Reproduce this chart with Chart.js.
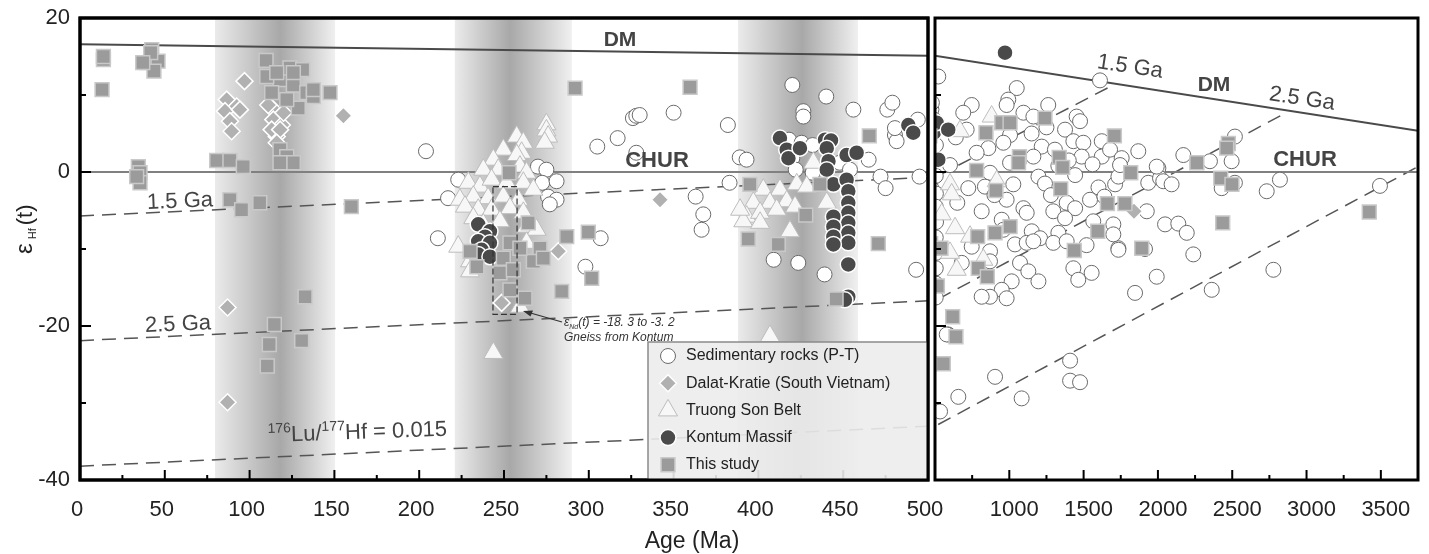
<!DOCTYPE html>
<html lang="en">
<head>
<meta charset="UTF-8">
<title>εHf(t) vs Age</title>
<script src="https://cdn.jsdelivr.net/npm/chart.js@4.4.1/dist/chart.umd.min.js"></script>
<style>
  body { margin: 0; background: #fff; }
  #wrap { position: relative; width: 1429px; height: 554px; overflow: hidden; }
  .panel { position: absolute; top: 0; height: 554px; }
  #leftBox { left: 0; width: 960px; z-index: 1; }
  #rightBox { left: 932px; width: 497px; z-index: 2; }
</style>
</head>
<body>
<div id="wrap">
  <div class="panel" id="leftBox"><canvas id="leftChart"></canvas></div>
  <div class="panel" id="rightBox"><canvas id="rightChart"></canvas></div>
</div>
<script>
// ---- axes ----
const leftTicksX = [0, 50, 100, 150, 200, 250, 300, 350, 400, 450, 500];
const leftMinorX = [25, 75, 125, 175, 225, 275, 325, 375, 425, 475];
const rightTicksX = [1000, 1500, 2000, 2500, 3000, 3500];
const rightMinorX = [750, 1250, 1750, 2250, 2750, 3250];
const ticksY = [-40, -20, 0, 20];
const minorY = [-30, -10, 10];

// gray age bands: [start, darkest, end] in Ma
const bands = [[79.6, 118, 150.4], [221, 253.5, 290], [388, 425.7, 458.7]];

// reference lines [age, eHf]
const dmLine = [[0, 16.6], [3750, 5.35]];
const churLine = [[0, 0], [3750, 0]];
const line15 = [[0, -5.7], [1700, 11.3]];
const line25 = [[0, -21.9], [2833, 7.4]];
const line015 = [[0, -38.2], [3750, 0.7]];
const gneissBox = [[243.5, -1.9], [257.7, -18.5]];

// ---- series [age (Ma), eHf(t)] ----
const sedimentary = [
  [204, 2.7], [211, -8.6], [223, -1.0], [217, -3.4], [270, 0.7], [275, 0.3], [272.5, -1.4], [281, -1.2],
  [276, -3.2], [281, -3.6], [277, -4.2], [307, -8.6], [298, -12.3], [326, 7.0], [328, 7.3], [317, 4.4],
  [305, 3.3], [328, 2.5], [350, 7.7], [330, 7.4], [382, 6.1], [389, 1.9], [393, 1.6], [383, -1.4],
  [363, -3.2], [367.5, -5.5], [366.5, -7.5], [420, 11.3], [440, 9.8], [426.5, 7.9], [426.5, 7.2],
  [418, 4.2], [425.5, 3.8], [432, 3.5], [456, 8.1], [476, 8.1], [479, 9.0], [480.5, 4.8], [481.5, 4.0],
  [480.5, 5.7], [494, 6.8], [465, 1.6], [472, -0.6], [475, -2.1], [495, -0.6], [409, -11.4],
  [423.5, -11.8], [439, -13.3], [493, -12.7], [420, 1.8], [422, 0.3], [448, 1.2], [454, 0.3], [432, -0.1],
  [505, 6.0], [506, 3.5], [505, 1.5], [505, -0.5], [506, -2.8], [505, -4.5], [507, -6.5], [505, -8.5],
  [506, -10.5], [505, -12.5], [506, -14.5], [505, -16.3],
  [522, 12.4], [1050, 10.9], [993, 9.4], [982, 8.7], [747, 8.7], [690, 7.7], [1095, 7.7], [1162, 7.2],
  [1262, 8.7], [1453, 7.2], [1476, 6.6], [1375, 5.5], [1005, 4.8], [960, 3.8], [859, 3.1], [713, 5.5],
  [1218, 3.3], [1307, 2.9], [1431, 4.0], [1498, 3.8], [1487, 2.0], [1622, 4.0], [1622, 2.0], [1678, 2.9],
  [1756, 1.8], [1868, 2.7], [2003, 0.5], [1162, 2.0], [1005, 1.2], [601, 0.9], [870, -0.1], [724, -2.1],
  [836, -1.9], [1027, -1.6], [1196, -0.6], [1443, -0.4], [1712, -1.6], [1734, -0.6], [1935, -1.4],
  [2014, -0.8], [982, -3.6], [814, -5.1], [1095, -4.7], [1117, -5.3], [1296, -5.1], [1386, -4.0],
  [1443, -4.7], [1543, -3.6], [1375, -6.0], [1565, -6.4], [1700, -6.8], [1846, -15.7], [1925, -5.1],
  [2048, -6.8], [949, -6.2], [960, -7.5], [1151, -7.7], [1330, -7.9], [1207, -8.6], [1038, -9.4],
  [1117, -9.2], [747, -9.7], [870, -10.3], [1162, -9.0], [1296, -9.2], [1386, -9.0], [1734, -9.9],
  [1700, -8.1], [680, -11.8], [870, -11.6], [1072, -11.8], [1128, -12.9], [1196, -14.2], [1016, -14.2],
  [949, -15.3], [870, -16.2], [814, -16.2], [982, -16.4], [1431, -12.5], [1464, -14.0], [1554, -13.1],
  [1992, -13.6], [589, -21.1], [1610, 11.9], [2171, 2.2], [2350, 1.4], [2496, 1.4], [2518, 4.6],
  [2036, -1.2], [2092, -1.6], [2429, -2.1], [2518, -1.4], [2821, -1.0], [2732, -2.5], [3494, -1.8],
  [1992, 0.7], [1745, 0.9], [2777, -12.7], [2362, -15.3], [2238, -10.7], [2137, -6.7], [2194, -7.9],
  [1734, -10.1], [1913, -10.0], [534, -31.1], [657, -29.2], [904, -26.6], [1083, -29.4], [1409, -24.5],
  [1409, -27.1], [1476, -27.3], [579, -21.1], [640, 4.5], [780, 2.5], [650, -4.0], [900, -3.0],
  [1240, -1.5], [1280, -3.0], [1330, 0.8], [1560, 1.0], [1600, -2.0], [1150, 5.0], [1250, 5.8],
  [1400, 1.5], [1520, -9.5], [1640, -3.2]
];
const dalatKratie = [
  [97, 11.8], [86.5, 9.4], [92.4, 8.5], [85.5, 7.9], [88.4, 6.6], [89.4, 5.3], [94.3, 8.1], [155.3, 7.3],
  [113, 8.3], [111, 8.7], [114, 6.8], [119, 6.1], [116, 4.6], [113, 5.5], [120, 7.7], [118, 5.5], [116, 3.8],
  [87, -17.6], [87, -29.9], [282, -10.3], [248.6, -17.0], [342, -3.6], [1839, -5.1]
];
const truongSon = [
  [275, 6.2], [275, 5.4], [276, 4.6], [274, 3.8], [257.5, 4.6], [261.4, 3.8], [260.4, 2.5], [249.6, 2.9],
  [257.5, 2.2], [243.7, 1.6], [237.8, 0.3], [246.6, 0.3], [259.4, 0.7], [263.3, -0.1], [229, -1.4],
  [235.8, -1.9], [242.7, -1.0], [251.6, -1.4], [261.4, -1.4], [267.3, -2.3], [224, -3.6], [231.9, -3.2],
  [240.6, -3.4], [249.6, -3.2], [258.5, -3.6], [227, -4.5], [234.8, -4.9], [242.7, -4.9], [253.5, -4.7],
  [261.4, -5.3], [231.9, -6.0], [247.6, -6.4], [237.8, -6.8], [263.3, -7.1], [269.2, -7.5], [223, -9.7],
  [230, -11.6], [230, -12.9], [263.3, -9.2], [243.7, -23.5], [259.4, -17.5],
  [402.9, -2.3], [412.7, -2.3], [422.6, -1.6], [428.5, -1.9], [432.4, 1.2], [397, -4.0], [406.8, -4.0],
  [416.7, -3.8], [421.6, -4.5], [393.1, -5.8], [401, -5.3], [410.8, -4.9], [440.3, -4.0], [391.1, -6.4],
  [401, -6.6], [418.6, -7.7], [389.2, -4.9], [406.8, -21.3],
  [881, 7.2], [668, 5.3], [601, -1.6], [612, -2.9], [545, -5.5], [635, -7.3], [736, -8.4], [601, -10.5],
  [646, -12.7], [825, -11.4], [915, -1.2]
];
const kontum = [
  [234.8, -6.8], [241.7, -7.7], [238.8, -8.4], [234.8, -9.0], [241.7, -9.2], [236.8, -10.1], [234.8, -10.7],
  [241.7, -11.0],
  [412.7, 4.4], [416.7, 2.9], [417.7, 1.8], [424.5, 3.1], [439.3, 4.2], [442.8, 4.1], [440.3, 3.1],
  [441.3, 1.4], [440.3, 0.3], [444.2, -1.6], [452, 2.2], [457.9, 2.5], [452, -1.0], [453, -2.5], [453, -4.0],
  [453, -5.3], [453, -6.6], [453, -7.9], [453, -9.2], [444.2, -5.8], [444.2, -7.1], [444.2, -8.4],
  [444.2, -9.4], [453, -12.0], [453, -16.2], [451, -16.6], [488.4, 6.1], [491.3, 5.1],
  [511, 6.4], [589, 5.5], [522, 1.6], [971, 15.5]
];
const thisStudy = [
  [13.8, 14.6], [13.8, 15.0], [13, 10.7], [42.3, 15.9], [39.3, 14.2], [46, 14.4], [43.6, 13.1], [41.7, 15.5],
  [37, 14.2], [34.4, 0.7], [35.4, -0.1], [35.4, -1.4], [33.4, -0.6], [80.6, 1.5], [88.4, 1.5], [96.3, 0.7],
  [88.4, -3.6], [95.3, -4.9], [106, -4.0], [160, -4.5],
  [109.7, 14.5], [117.9, 12.0], [123.8, 13.5], [131.3, 13.3], [113, 10.3], [125.8, 11.3], [133.7, 10.3],
  [137.6, 9.8], [147.4, 10.3], [128.7, 8.3], [121.9, 9.4], [110.1, 12.4], [116, 12.9], [137.6, 10.7],
  [125.8, 12.9], [117.9, 2.9], [121.9, 2.0], [125.8, 1.2], [117.9, 1.2],
  [132.7, -16.2], [114.6, -19.8], [111.6, -22.4], [130.7, -21.9], [110.4, -25.2],
  [291.9, 10.9], [253, -0.1], [264.3, -6.6], [287, -8.4], [299.7, -7.8], [271.2, -9.9], [267.3, -11.6],
  [273.2, -11.2], [253.5, -9.2], [249.6, -11.2], [247.6, -13.1], [253.5, -15.3], [262.4, -16.4],
  [284, -15.5], [301.7, -13.8], [230, -10.3], [234, -12.3], [259.4, -9.9], [255.5, -12.7],
  [359.7, 11.0], [465.4, 4.7], [395, -1.6], [436.3, -1.6], [427.9, -5.6], [394, -8.7], [411.7, -9.4],
  [470.7, -9.3], [445.8, -16.5],
  [1240, 7.0], [949, 6.4], [1005, 6.4], [843, 5.1], [1707, 4.7], [1068, 2.0], [1062, 1.2], [1336, 1.9],
  [1359, 0.6], [780, 0.2], [910, -2.4], [1346, -2.2], [1817, -0.1], [1660, -4.1], [1778, -4.1],
  [1595, -7.7], [1005, -7.1], [904, -7.9], [787, -8.4], [540, -9.9], [1437, -10.2], [1891, -9.9],
  [791, -12.5], [852, -13.6], [516, -14.8], [619, -18.8], [641, -21.4], [556, -24.9],
  [2262, 1.2], [2474, 3.7], [2463, 3.1], [2423, -0.8], [2498, -1.6], [2436, -6.6], [3422, -5.2]
];

const legendLabels = ['Sedimentary rocks (P-T)', 'Dalat-Kratie (South Vietnam)', 'Truong Son Belt', 'Kontum Massif', 'This study'];

const FONT = '"Liberation Sans", Arial, Helvetica, sans-serif';

function pts(arr, lo, hi) {
  return arr.filter(p => p[0] >= lo && p[0] <= hi).map(p => ({ x: p[0], y: p[1] }));
}

function buildDatasets(lo, hi) {
  const a = lo - 40, b = hi + 40;
  const line = (label, arr, color, width, dash, order) => ({
    label, data: pts(arr, -1, 99999), showLine: true, pointRadius: 0, borderColor: color,
    borderWidth: width, borderDash: dash, fill: false, order, clip: 0
  });
  return [
    { label: legendLabels[4], data: pts(thisStudy, a, b), pointStyle: 'rect', pointRadius: 9.8,
      backgroundColor: '#9b9b9b', borderColor: '#c9c9c9', borderWidth: 1.5, order: 1, clip: 0 },
    { label: legendLabels[3], data: pts(kontum, a, b), pointStyle: 'circle', pointRadius: 8,
      backgroundColor: '#4a4a4a', borderColor: '#ffffff', borderWidth: 1.5, order: 2, clip: 0 },
    { label: legendLabels[2], data: pts(truongSon, a, b), pointStyle: 'triangle', pointRadius: 11,
      backgroundColor: '#f7f7f7', borderColor: '#bdbdbd', borderWidth: 1, order: 3, clip: 0 },
    { label: legendLabels[1], data: pts(dalatKratie, a, b), pointStyle: 'rectRot', pointRadius: 8.5,
      backgroundColor: '#b1b1b1', borderColor: '#ffffff', borderWidth: 1.5, order: 4, clip: 0 },
    { label: legendLabels[0], data: pts(sedimentary, a, b), pointStyle: 'circle', pointRadius: 7.5,
      backgroundColor: '#ffffff', borderColor: '#6a6a6a', borderWidth: 1, order: 5, clip: 0 },
    line('DM', dmLine, '#4a4a4a', 2, [], 6),
    line('CHUR', churLine, '#808080', 2.2, [], 7),
    line('1.5 Ga', line15, '#555555', 1.5, [14, 8], 8),
    line('2.5 Ga', line25, '#555555', 1.5, [14, 8], 9),
    line('0.015', line015, '#555555', 1.5, [14, 8], 10)
  ];
}

function text(ctx, s, x, y, font, color, align, rot) {
  ctx.save();
  ctx.font = font;
  ctx.fillStyle = color || '#333';
  ctx.textAlign = align || 'left';
  ctx.textBaseline = 'middle';
  ctx.translate(x, y);
  if (rot) ctx.rotate(rot * Math.PI / 180);
  ctx.fillText(s, 0, 0);
  ctx.restore();
}

// gray vertical bands behind the data
const bandsPlugin = {
  id: 'bands',
  beforeDatasetsDraw(chart) {
    const { ctx, chartArea: ca, scales: { x } } = chart;
    ctx.save();
    bands.forEach(([s, p, e]) => {
      const x0 = x.getPixelForValue(s), x1 = x.getPixelForValue(e), xp = x.getPixelForValue(p);
      const g = ctx.createLinearGradient(x0, 0, x1, 0);
      g.addColorStop(0, '#ebebeb');
      g.addColorStop((xp - x0) / (x1 - x0), '#a8a8a8');
      g.addColorStop(1, '#f0f0f0');
      ctx.fillStyle = g;
      ctx.fillRect(x0, ca.top, x1 - x0, ca.bottom - ca.top);
    });
    ctx.restore();
  }
};

// frame and inward ticks
function framePlugin(majorX, minorX) {
  return {
    id: 'frame',
    afterDatasetsDraw(chart) {
      const { ctx, chartArea: ca, scales: { x, y } } = chart;
      ctx.save();
      ctx.strokeStyle = '#000';
      ctx.lineWidth = 2;
      ctx.beginPath();
      majorX.forEach(v => { const p = x.getPixelForValue(v); ctx.moveTo(p, ca.bottom); ctx.lineTo(p, ca.bottom - 10); });
      minorX.forEach(v => { const p = x.getPixelForValue(v); ctx.moveTo(p, ca.bottom); ctx.lineTo(p, ca.bottom - 5); });
      ticksY.forEach(v => { const p = y.getPixelForValue(v); ctx.moveTo(ca.left, p); ctx.lineTo(ca.left + 11, p); });
      minorY.forEach(v => { const p = y.getPixelForValue(v); ctx.moveTo(ca.left, p); ctx.lineTo(ca.left + 6, p); });
      ctx.stroke();
      ctx.lineWidth = 3;
      ctx.strokeRect(ca.left, ca.top, ca.right - ca.left, ca.bottom - ca.top);
      ctx.restore();
    }
  };
}

const leftLabels = {
  id: 'leftLabels',
  afterDatasetsDraw(chart) {
    const { ctx, scales: { x, y } } = chart;
    const f = (w, s) => `${w} ${s}px ${FONT}`;
    text(ctx, 'DM', 620, 40, f('bold', 21), '#444', 'center');
    text(ctx, 'CHUR', 657, 161, f('bold', 22), '#444', 'center');
    text(ctx, '1.5 Ga', 147, 203, f('normal', 22), '#444', 'left', -2.5);
    text(ctx, '2.5 Ga', 145, 326, f('normal', 22), '#444', 'left', -2.5);
    // 176Lu/177Hf = 0.015
    ctx.save();
    ctx.translate(268, 442);
    ctx.rotate(-2 * Math.PI / 180);
    ctx.fillStyle = '#444';
    ctx.textBaseline = 'alphabetic';
    let cx = 0;
    const seg = (s, size, dy) => { ctx.font = f('normal', size); ctx.fillText(s, cx, dy); cx += ctx.measureText(s).width; };
    seg('176', 14, -9); seg('Lu/', 22, 0); seg('177', 14, -9); seg('Hf = 0.015', 22, 0);
    ctx.restore();

    // gneiss box + arrow + note
    const bx0 = x.getPixelForValue(gneissBox[0][0]), bx1 = x.getPixelForValue(gneissBox[1][0]);
    const by0 = y.getPixelForValue(gneissBox[0][1]), by1 = y.getPixelForValue(gneissBox[1][1]);
    ctx.save();
    ctx.strokeStyle = '#333';
    ctx.lineWidth = 1.2;
    ctx.setLineDash([6, 3]);
    ctx.strokeRect(bx0, by0, bx1 - bx0, by1 - by0);
    ctx.setLineDash([]);
    ctx.beginPath();
    ctx.moveTo(562, 322); ctx.lineTo(527, 312);
    ctx.stroke();
    ctx.beginPath();
    ctx.moveTo(523, 311); ctx.lineTo(533, 310.5); ctx.lineTo(530.5, 316.5); ctx.closePath();
    ctx.fillStyle = '#333';
    ctx.fill();
    ctx.fillStyle = '#333';
    ctx.textBaseline = 'alphabetic';
    cx = 564;
    const it = (s, size, dy) => { ctx.font = `italic ${size}px ${FONT}`; ctx.fillText(s, cx, 326 + dy); cx += ctx.measureText(s).width; };
    it('ε', 12, 0); it('Nd', 7, 3); it('(t) = -18. 3 to -3. 2', 12, 0);
    ctx.font = `italic 12px ${FONT}`;
    ctx.fillText('Gneiss from Kontum', 564, 341);
    ctx.restore();
  },
  afterDraw(chart) {
    const { ctx } = chart;
    // axis titles
    text(ctx, 'Age (Ma)', 692, 542, `23px ${FONT}`, '#222', 'center');
    ctx.save();
    ctx.translate(24, 254);
    ctx.rotate(-Math.PI / 2);
    ctx.fillStyle = '#222';
    ctx.textBaseline = 'alphabetic';
    ctx.font = `24px ${FONT}`;
    ctx.fillText('ε', 0, 8);
    let cx = ctx.measureText('ε').width + 4;
    ctx.font = `11px ${FONT}`;
    ctx.fillText('Hf', cx, 12);
    cx += ctx.measureText('Hf').width + 3;
    ctx.font = `22px ${FONT}`;
    ctx.fillText('(t)', cx, 8);
    ctx.restore();

    // legend box
    const ca = chart.chartArea;
    const lx = 648, ly = 342, lw = ca.right - 648, lh = ca.bottom - 342;
    ctx.save();
    ctx.fillStyle = 'rgba(236,236,236,0.9)';
    ctx.fillRect(lx, ly, lw, lh);
    ctx.strokeStyle = '#8a8a8a';
    ctx.lineWidth = 1.5;
    ctx.strokeRect(lx, ly, lw, lh);
    legendLabels.forEach((lab, i) => {
      const ds = chart.data.datasets.find(d => d.label === lab);
      const yy = ly + 14 + i * 27.2;
      ctx.fillStyle = ds.backgroundColor;
      ctx.strokeStyle = ds.borderColor;
      ctx.lineWidth = ds.borderWidth;
      Chart.helpers.drawPoint(ctx, { pointStyle: ds.pointStyle, radius: ds.pointRadius, rotation: 0, borderWidth: ds.borderWidth }, 668, yy);
      text(ctx, lab, 686, yy, `16px ${FONT}`, '#222', 'left');
    });
    ctx.restore();
    // redraw frame edge over legend
    ctx.save();
    ctx.strokeStyle = '#000';
    ctx.lineWidth = 3;
    ctx.strokeRect(ca.left, ca.top, ca.right - ca.left, ca.bottom - ca.top);
    ctx.restore();
  }
};

const rightLabels = {
  id: 'rightLabels',
  afterDatasetsDraw(chart) {
    const { ctx } = chart;
    const o = 932;
    const f = (w, s) => `${w} ${s}px ${FONT}`;
    text(ctx, '1.5 Ga', 1130 - o, 67, f('normal', 22), '#444', 'center', 8.5);
    text(ctx, 'DM', 1214 - o, 85, f('bold', 21), '#444', 'center');
    text(ctx, '2.5 Ga', 1302 - o, 99, f('normal', 22), '#444', 'center', 8.5);
    text(ctx, 'CHUR', 1305 - o, 160, f('bold', 22), '#444', 'center');
  }
};

function makeChart(id, lo, hi, majorX, minorX, yWidth, padRight, plugins, showY, labelShift) {
  return new Chart(document.getElementById(id), {
    type: 'scatter',
    data: { datasets: buildDatasets(lo, hi) },
    options: {
      responsive: true,
      maintainAspectRatio: false,
      animation: false,
      layout: { autoPadding: false, padding: { top: 18, right: padRight, left: 0, bottom: 0 } },
      plugins: { legend: { display: false }, tooltip: { enabled: false } },
      scales: {
        x: {
          type: 'linear', min: lo, max: hi,
          afterBuildTicks: s => { s.ticks = majorX.map(v => ({ value: v })); },
          afterFit: s => { s.height = 74; s.paddingLeft = 0; s.paddingRight = 0; },
          grid: { display: false, drawTicks: false },
          border: { display: false },
          ticks: { font: { family: FONT, size: 22 }, color: '#222', padding: 17, maxRotation: 0,
            labelOffset: labelShift, callback: v => String(v) }
        },
        y: {
          type: 'linear', min: -40, max: 20,
          afterBuildTicks: s => { s.ticks = ticksY.map(v => ({ value: v })); },
          afterFit: s => { s.width = yWidth; s.paddingTop = 0; s.paddingBottom = 0; },
          grid: { display: false, drawTicks: false },
          border: { display: false },
          ticks: { display: showY, font: { family: FONT, size: 22 }, color: '#222', padding: 10,
            callback: v => String(v) }
        }
      }
    },
    plugins
  });
}

makeChart('leftChart', 0, 500, leftTicksX, leftMinorX, 80, 32,
  [bandsPlugin, framePlugin(leftTicksX, leftMinorX), leftLabels], true, -3);
makeChart('rightChart', 500, 3750, rightTicksX, rightMinorX, 3, 11,
  [framePlugin(rightTicksX, rightMinorX), rightLabels], false, 5);
</script>
</body>
</html>
